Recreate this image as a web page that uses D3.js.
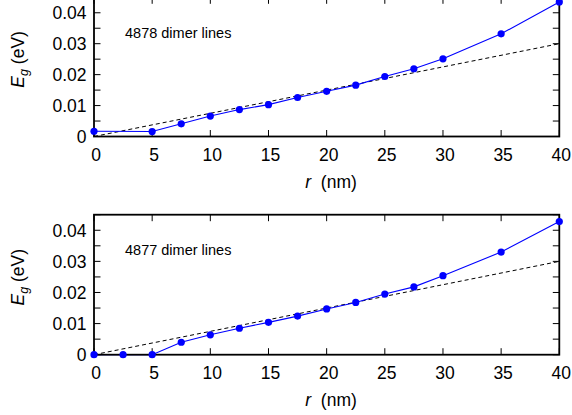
<!DOCTYPE html>
<html>
<head>
<meta charset="utf-8">
<script src="https://cdn.jsdelivr.net/npm/d3@7"></script>
<style>
  html, body { margin: 0; padding: 0; background: #fff; }
  svg { display: block; font-family: "Liberation Sans", Arial, Helvetica, sans-serif; }
</style>
</head>
<body>
<svg id="chart" width="572" height="415"></svg>
<script>
// Band gap vs. radius for two dimer-line counts
const radiusTop = [0, 5, 7.5, 10, 12.5, 15, 17.5, 20, 22.5, 25, 27.5, 30, 35, 40];
const gapTop    = [0.0017, 0.0016, 0.0041, 0.0066, 0.0087, 0.0103, 0.0126, 0.0146, 0.0166, 0.0194, 0.0219, 0.0251, 0.0332, 0.0435];

const radiusBottom = [0, 2.5, 5, 7.5, 10, 12.5, 15, 17.5, 20, 22.5, 25, 27.5, 30, 35, 40];
const gapBottom    = [0, 0, 0, 0.0040, 0.0064, 0.0085, 0.0104, 0.0124, 0.0147, 0.0168, 0.0195, 0.0218, 0.0254, 0.0330, 0.0428];

// Linear reference (dashed) endpoints
const refRadius = [0, 40];
const refGap    = [0, 0.030];

const xTicks = [0, 5, 10, 15, 20, 25, 30, 35, 40];
const yTicks = [0, 0.01, 0.02, 0.03, 0.04];
const yMinorTicks = [0.005, 0.015, 0.025, 0.035, 0.045];
const panelLabels = ["4878 dimer lines", "4877 dimer lines"];

const svg = d3.select("#chart");
const left = 94, right = 559.3;
const x = d3.scaleLinear().domain([0, 40]).range([left, right]);

function drawPanel(top, bottom, rs, gs, label) {
  const y = d3.scaleLinear().domain([0, 0.045]).range([bottom, top]);
  const g = svg.append("g");

  // ticks pointing inward on all four sides
  const tickLen = 6.5;
  const allY = yTicks.concat(yMinorTicks);
  g.append("g").selectAll("line.yl").data(allY).join("line")
    .attr("x1", left).attr("x2", left + tickLen)
    .attr("y1", d => y(d)).attr("y2", d => y(d))
    .attr("stroke", "#000").attr("stroke-width", 1);
  g.append("g").selectAll("line.yr").data(allY).join("line")
    .attr("x1", right).attr("x2", right - tickLen)
    .attr("y1", d => y(d)).attr("y2", d => y(d))
    .attr("stroke", "#000").attr("stroke-width", 1);
  g.append("g").selectAll("line.xb").data(xTicks).join("line")
    .attr("x1", d => x(d)).attr("x2", d => x(d))
    .attr("y1", bottom).attr("y2", bottom - tickLen)
    .attr("stroke", "#000").attr("stroke-width", 1);
  g.append("g").selectAll("line.xt").data(xTicks).join("line")
    .attr("x1", d => x(d)).attr("x2", d => x(d))
    .attr("y1", top).attr("y2", top + tickLen)
    .attr("stroke", "#000").attr("stroke-width", 1);

  // tick labels
  g.append("g").selectAll("text").data(yTicks).join("text")
    .attr("x", left - 7.5).attr("y", d => y(d)).attr("dy", "0.36em")
    .attr("text-anchor", "end").attr("font-size", 17.5)
    .text(d => d === 0 ? "0" : d3.format(".2f")(d));
  g.append("g").selectAll("text").data(xTicks).join("text")
    .attr("x", d => x(d) + 2).attr("y", bottom + 24.5)
    .attr("text-anchor", "middle").attr("font-size", 17.5)
    .text(d => d);

  // dashed linear reference
  const line = d3.line().x(d => x(d[0])).y(d => y(d[1]));
  g.append("path")
    .datum(d3.zip(refRadius, refGap))
    .attr("d", line)
    .attr("fill", "none").attr("stroke", "#000").attr("stroke-width", 1)
    .attr("stroke-dasharray", "4,3");

  // data series
  const pts = d3.zip(rs, gs);
  g.append("path").datum(pts).attr("d", line)
    .attr("fill", "none").attr("stroke", "#0000ff").attr("stroke-width", 1.1);

  // frame
  g.append("rect")
    .attr("x", left).attr("y", top)
    .attr("width", right - left).attr("height", bottom - top)
    .attr("fill", "none").attr("stroke", "#000").attr("stroke-width", 1.8);

  g.append("g").selectAll("circle").data(pts).join("circle")
    .attr("cx", d => x(d[0])).attr("cy", d => y(d[1])).attr("r", 3.6)
    .attr("fill", "#0000ff");

  // panel annotation
  g.append("text").attr("x", 125).attr("y", top + 40.5)
    .attr("font-size", 14.5).text(label);

  // axis titles
  const xl = g.append("text").attr("x", 331).attr("y", bottom + 51.5)
    .attr("text-anchor", "middle").attr("font-size", 17.5);
  xl.append("tspan").attr("font-style", "italic").text("r");
  xl.append("tspan").attr("dx", 5).text(" (nm)");

  const cy = (top + bottom) / 2 - 7.5;
  const yl = g.append("text")
    .attr("transform", `translate(24,${cy}) rotate(-90)`)
    .attr("text-anchor", "middle").attr("font-size", 17.5);
  yl.append("tspan").attr("font-style", "italic").text("E");
  yl.append("tspan").attr("font-style", "italic").attr("font-size", 12.5).attr("dy", 4).text("g");
  yl.append("tspan").attr("dy", -4).text(" (eV)");
}

drawPanel(-2.7, 136.5, radiusTop, gapTop, panelLabels[0]);
drawPanel(214.7, 354.7, radiusBottom, gapBottom, panelLabels[1]);
</script>
</body>
</html>
